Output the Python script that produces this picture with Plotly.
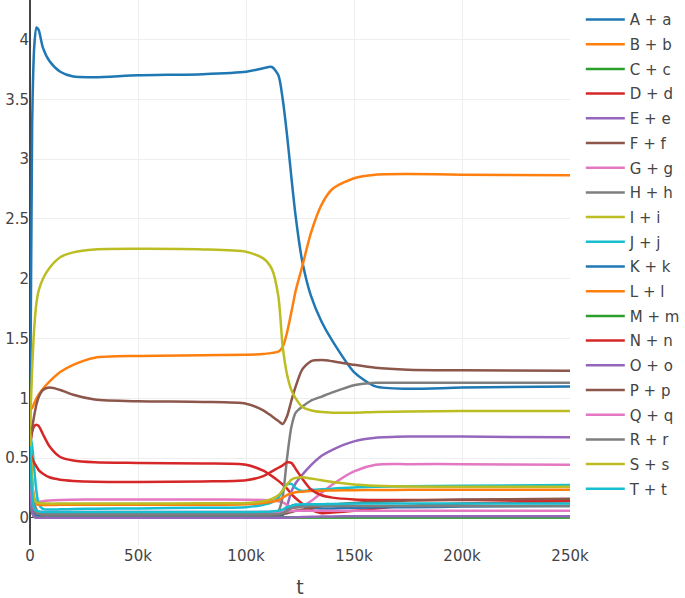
import plotly.graph_objects as go

# time points (thousands)
t_k = [0, 1, 2, 3, 4, 6, 9, 14, 20, 30, 50, 80, 100, 108, 112, 115, 117, 119, 121, 123, 126, 130, 135, 140, 150, 160, 175, 200, 250]
t = [v * 1000 for v in t_k]

names = ["A + a", "B + b", "C + c", "D + d", "E + e", "F + f", "G + g", "H + h", "I + i", "J + j",
         "K + k", "L + l", "M + m", "N + n", "O + o", "P + p", "Q + q", "R + r", "S + s", "T + t"]

A = [0.7, 3.3, 3.95, 4.1, 4.08, 3.93, 3.82, 3.73, 3.69, 3.685, 3.70, 3.71, 3.73, 3.76, 3.77, 3.7, 3.5, 3.2, 2.85, 2.52, 2.15, 1.86, 1.64, 1.48, 1.22, 1.1, 1.08, 1.09, 1.10]
B = [0.9, 0.92, 0.96, 1.0, 1.03, 1.08, 1.14, 1.22, 1.28, 1.34, 1.355, 1.36, 1.365, 1.37, 1.38, 1.39, 1.43, 1.55, 1.72, 1.9, 2.1, 2.38, 2.62, 2.75, 2.84, 2.87, 2.875, 2.87, 2.865]
C = [0.7, 0.2, 0.05, 0.02, 0.01, 0.008, 0.006, 0.005, 0.005, 0.005, 0.005, 0.005, 0.005, 0.005, 0.005, 0.005, 0.005, 0.005, 0.005, 0.005, 0.005, 0.005, 0.005, 0.005, 0.005, 0.005, 0.005, 0.005, 0.005]
D = [0.6, 0.72, 0.77, 0.78, 0.77, 0.7, 0.6, 0.51, 0.48, 0.465, 0.46, 0.455, 0.445, 0.395, 0.35, 0.31, 0.28, 0.245, 0.2, 0.165, 0.12, 0.07, 0.04, 0.045, 0.06, 0.08, 0.1, 0.12, 0.14]
E = [0.3, 0.05, 0.01, 0.005, 0.004, 0.003, 0.003, 0.003, 0.003, 0.003, 0.003, 0.003, 0.003, 0.004, 0.005, 0.008, 0.02, 0.1, 0.22, 0.29, 0.36, 0.44, 0.52, 0.57, 0.64, 0.67, 0.68, 0.68, 0.675]
F = [0.6, 0.75, 0.86, 0.95, 1.01, 1.07, 1.09, 1.07, 1.03, 0.99, 0.975, 0.97, 0.955, 0.9, 0.85, 0.81, 0.785, 0.85, 0.98, 1.1, 1.24, 1.31, 1.32, 1.31, 1.28, 1.255, 1.24, 1.235, 1.23]
G = [0.7, 0.3, 0.17, 0.14, 0.135, 0.14, 0.145, 0.15, 0.152, 0.155, 0.155, 0.155, 0.152, 0.15, 0.145, 0.14, 0.13, 0.11, 0.09, 0.085, 0.1, 0.14, 0.21, 0.28, 0.39, 0.445, 0.45, 0.45, 0.445]
H = [0.7, 0.3, 0.12, 0.07, 0.05, 0.045, 0.04, 0.04, 0.04, 0.04, 0.04, 0.04, 0.042, 0.045, 0.05, 0.06, 0.18, 0.5, 0.76, 0.88, 0.93, 0.98, 1.015, 1.05, 1.11, 1.13, 1.13, 1.13, 1.13]
I = [0.75, 1.25, 1.6, 1.8, 1.9, 2.0, 2.09, 2.18, 2.22, 2.245, 2.25, 2.245, 2.225, 2.17, 2.08, 1.85, 1.43, 1.2, 1.07, 1.0, 0.93, 0.9, 0.885, 0.88, 0.88, 0.885, 0.89, 0.895, 0.895]
J = [0.7, 0.6, 0.4, 0.22, 0.12, 0.075, 0.07, 0.072, 0.075, 0.078, 0.08, 0.085, 0.09, 0.11, 0.13, 0.17, 0.23, 0.28, 0.285, 0.25, 0.225, 0.235, 0.24, 0.245, 0.255, 0.26, 0.265, 0.27, 0.275]
K = [0.5, 0.2, 0.06, 0.03, 0.025, 0.02, 0.02, 0.02, 0.02, 0.02, 0.02, 0.02, 0.02, 0.02, 0.02, 0.02, 0.03, 0.06, 0.1, 0.11, 0.1, 0.085, 0.08, 0.08, 0.085, 0.09, 0.09, 0.095, 0.1]
L = [0.7, 0.3, 0.14, 0.115, 0.11, 0.108, 0.108, 0.11, 0.11, 0.11, 0.11, 0.11, 0.115, 0.125, 0.135, 0.15, 0.17, 0.19, 0.205, 0.215, 0.22, 0.225, 0.228, 0.23, 0.232, 0.234, 0.235, 0.235, 0.235]
M = [0.4, 0.05, 0.01, 0.005, 0.004, 0.004, 0.004, 0.004, 0.004, 0.004, 0.004, 0.004, 0.004, 0.004, 0.004, 0.004, 0.004, 0.004, 0.004, 0.004, 0.004, 0.004, 0.004, 0.004, 0.004, 0.004, 0.004, 0.004, 0.004]
N = [0.55, 0.5, 0.46, 0.43, 0.4, 0.37, 0.34, 0.32, 0.31, 0.302, 0.30, 0.305, 0.315, 0.35, 0.39, 0.42, 0.44, 0.465, 0.46, 0.41, 0.33, 0.24, 0.19, 0.17, 0.155, 0.15, 0.15, 0.15, 0.15]
O = [0.3, 0.05, 0.01, 0.003, 0.002, 0.002, 0.002, 0.002, 0.002, 0.002, 0.002, 0.002, 0.002, 0.002, 0.002, 0.002, 0.002, 0.002, 0.003, 0.005, 0.008, 0.01, 0.012, 0.013, 0.014, 0.015, 0.015, 0.015, 0.015]
P = [0.5, 0.2, 0.06, 0.04, 0.035, 0.03, 0.03, 0.03, 0.03, 0.03, 0.03, 0.03, 0.03, 0.03, 0.03, 0.03, 0.035, 0.04, 0.05, 0.06, 0.07, 0.085, 0.1, 0.11, 0.125, 0.135, 0.145, 0.155, 0.16]
Q = [0.4, 0.15, 0.07, 0.055, 0.05, 0.05, 0.05, 0.05, 0.05, 0.05, 0.05, 0.05, 0.05, 0.05, 0.05, 0.05, 0.052, 0.055, 0.058, 0.06, 0.06, 0.06, 0.06, 0.06, 0.06, 0.06, 0.06, 0.06, 0.06]
R = [0.6, 0.2, 0.07, 0.04, 0.035, 0.03, 0.03, 0.03, 0.03, 0.03, 0.03, 0.03, 0.03, 0.03, 0.03, 0.032, 0.04, 0.06, 0.08, 0.09, 0.095, 0.1, 0.1, 0.1, 0.1, 0.1, 0.1, 0.1, 0.1]
S = [0.75, 0.3, 0.15, 0.13, 0.125, 0.122, 0.12, 0.12, 0.12, 0.12, 0.12, 0.122, 0.125, 0.14, 0.16, 0.19, 0.23, 0.28, 0.32, 0.335, 0.34, 0.33, 0.315, 0.3, 0.28, 0.27, 0.262, 0.26, 0.26]
T = [0.6, 0.2, 0.08, 0.06, 0.055, 0.05, 0.05, 0.05, 0.05, 0.05, 0.05, 0.05, 0.05, 0.052, 0.055, 0.06, 0.07, 0.09, 0.1, 0.11, 0.115, 0.115, 0.115, 0.117, 0.12, 0.12, 0.12, 0.12, 0.12]

series = [A, B, C, D, E, F, G, H, I, J, K, L, M, N, O, P, Q, R, S, T]
colors = ["#1f77b4", "#ff7f0e", "#2ca02c", "#d62728", "#9467bd",
          "#8c564b", "#e377c2", "#7f7f7f", "#bcbd22", "#17becf"]

fig = go.Figure()
for i, (nm, ys) in enumerate(zip(names, series)):
    fig.add_trace(go.Scatter(
        x=t, y=ys, name=nm, mode="lines",
        legendgroup=nm,
        line=dict(color=colors[i % 10], width=2.5, shape="spline", smoothing=0.7),
    ))

fig.update_layout(
    template="none",
    width=685, height=598,
    font=dict(family="DejaVu Sans", size=15, color="#444"),
    margin=dict(l=30, r=115, t=0, b=53, autoexpand=False),
    paper_bgcolor="white", plot_bgcolor="white",
    showlegend=True,
    legend=dict(font=dict(size=15), traceorder="grouped", tracegroupgap=2.2, itemwidth=39,
                y=0.994, yanchor="top"),
    xaxis=dict(title=dict(text="t", font=dict(size=19), standoff=20), range=[0, 250000],
               gridcolor="#eee", zeroline=True, zerolinecolor="#444", zerolinewidth=1.5,
               showline=False, ticks="", automargin=False),
    yaxis=dict(range=[-0.226, 4.33], gridcolor="#eee", zeroline=True, zerolinecolor="#444",
               showline=False, ticks="", automargin=False, dtick=0.5),
)

fig.write_html("out.html", config={"displayModeBar": False},
               post_script="document.body.style.margin='0px';")
